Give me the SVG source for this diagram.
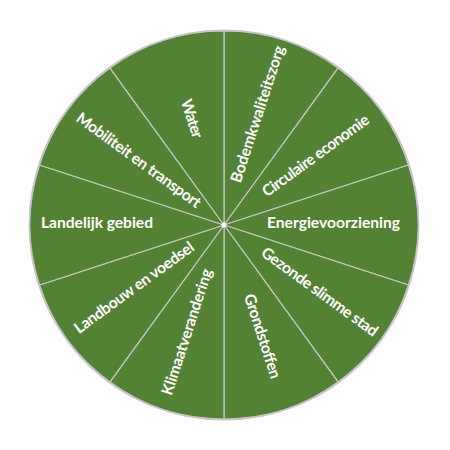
<svg xmlns="http://www.w3.org/2000/svg" width="450" height="450" viewBox="0 0 450 450">
<style>
.seg{fill:#548235;stroke:#c8c8c8;stroke-width:1.2;stroke-linejoin:round}
.lbl{font-family:Lato,"Open Sans","Liberation Sans",sans-serif;font-weight:700;font-size:15.6px;fill:#ffffff;text-anchor:middle}
</style>
<rect width="450" height="450" fill="#ffffff"/>
<circle cx="224" cy="225" r="194.5" fill="#548235" stroke="#c4c4c4" stroke-width="2"/>
<g id="bodemkwaliteitszorg"><path class="seg" d="M224,225 L224,31 A194,194 0 0 1 338.03,68.05 Z"/><text class="lbl" transform="translate(259.8,114.7) rotate(-72)" y="3" textLength="143">Bodemkwaliteitszorg</text></g>
<g id="circulaire-economie"><path class="seg" d="M224,225 L338.03,68.05 A194,194 0 0 1 408.5,165.05 Z"/><text class="lbl" transform="translate(317,157.4) rotate(-36)" y="3" textLength="128">Circulaire economie</text></g>
<g id="energievoorziening"><path class="seg" d="M224,225 L408.5,165.05 A194,194 0 0 1 408.5,284.95 Z"/><text class="lbl" transform="translate(333.5,225)" y="3" textLength="133">Energievoorziening</text></g>
<g id="gezonde-slimme-stad"><path class="seg" d="M224,225 L408.5,284.95 A194,194 0 0 1 338.03,381.95 Z"/><text class="lbl" transform="translate(318.4,293.6) rotate(36)" y="3" textLength="140">Gezonde slimme stad</text></g>
<g id="grondstoffen"><path class="seg" d="M224,225 L338.03,381.95 A194,194 0 0 1 224,419 Z"/><text class="lbl" transform="translate(260.3,336.8) rotate(72)" y="3" textLength="88">Grondstoffen</text></g>
<g id="klimaatverandering"><path class="seg" d="M224,225 L224,419 A194,194 0 0 1 109.97,381.95 Z"/><text class="lbl" transform="translate(189.1,332.5) rotate(-72)" y="3" textLength="132">Klimaatverandering</text></g>
<g id="landbouw-en-voedsel"><path class="seg" d="M224,225 L109.97,381.95 A194,194 0 0 1 39.5,284.95 Z"/><text class="lbl" transform="translate(135.4,289.4) rotate(-36)" y="3" textLength="144">Landbouw en voedsel</text></g>
<g id="landelijk-gebied"><path class="seg" d="M224,225 L39.5,284.95 A194,194 0 0 1 39.5,165.05 Z"/><text class="lbl" transform="translate(97,225)" y="3" textLength="112">Landelijk gebied</text></g>
<g id="mobiliteit-en-transport"><path class="seg" d="M224,225 L39.5,165.05 A194,194 0 0 1 109.97,68.05 Z"/><text class="lbl" transform="translate(137.4,162.1) rotate(36)" y="3" textLength="150">Mobiliteit en transport</text></g>
<g id="water"><path class="seg" d="M224,225 L109.97,68.05 A194,194 0 0 1 224,31 Z"/><text class="lbl" transform="translate(189.7,119.4) rotate(72)" y="3" textLength="40">Water</text></g>
<g id="connectors"><circle cx="224" cy="225" r="2.5" fill="#ffffff" opacity="0.9"/></g>
</svg>
